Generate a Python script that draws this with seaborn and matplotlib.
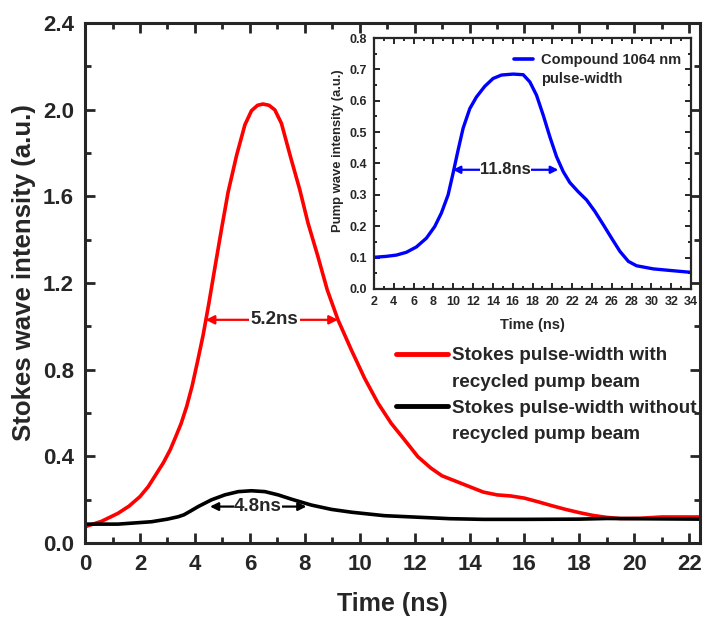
import numpy as np
import pandas as pd
import seaborn as sns
import matplotlib.pyplot as plt
from matplotlib.ticker import MultipleLocator
from matplotlib.lines import Line2D

# datos
t_red = [0, 0.6, 1.2, 1.6, 2.0, 2.3, 2.6, 2.85, 3.1, 3.3, 3.5, 3.7, 3.9, 4.1, 4.3, 4.5, 4.7, 4.97,
         5.21, 5.52, 5.82, 6.06, 6.28, 6.48, 6.7, 6.91, 7.15, 7.48, 7.82, 8.12, 8.48, 8.82, 9.21,
         9.7, 10.18, 10.67, 11.15, 11.64, 12.12, 12.6, 13.0, 13.5, 14.0, 14.5, 15.0, 15.5, 16.0,
         16.5, 17.0, 17.5, 18.0, 18.5, 19.0, 19.5, 20.2, 21.0, 22.4]
y_red = [0.075, 0.10, 0.137, 0.17, 0.214, 0.26, 0.32, 0.37, 0.43, 0.49, 0.552, 0.63, 0.725, 0.84,
         0.96, 1.10, 1.25, 1.45, 1.62, 1.79, 1.93, 1.995, 2.02, 2.026, 2.02, 1.999, 1.937, 1.783,
         1.63, 1.476, 1.322, 1.168, 1.03, 0.89, 0.76, 0.645, 0.552, 0.475, 0.398, 0.345, 0.31,
         0.285, 0.26, 0.235, 0.222, 0.217, 0.207, 0.19, 0.172, 0.155, 0.14, 0.127, 0.118, 0.113,
         0.114, 0.12, 0.12]

t_black = [0, 1.2, 2.42, 3.0, 3.39, 3.6, 3.85, 4.12, 4.6, 5.09, 5.58, 6.06, 6.55, 7.03, 7.52, 8.24,
           8.97, 9.7, 10.9, 12.1, 13.3, 14.5, 16, 18, 19, 20, 22.4]
y_black = [0.087, 0.087, 0.098, 0.11, 0.121, 0.13, 0.148, 0.168, 0.199, 0.222, 0.237, 0.241, 0.237,
           0.222, 0.202, 0.175, 0.155, 0.142, 0.126, 0.119, 0.112, 0.109, 0.109, 0.11, 0.113, 0.112,
           0.11]

t_blue = [2, 3.25, 4.26, 5.27, 6.28, 7.29, 8.13, 8.8, 9.48, 9.98, 10.49, 10.99, 11.67, 12.34, 13.18,
          14.02, 14.87, 16.05, 17.06, 17.73, 18.4, 19.08, 19.75, 20.42, 21.1, 21.77, 22.61, 23.45,
          24.3, 25.14, 25.98, 26.82, 27.67, 28.5, 30.2, 31.9, 34]
y_blue = [0.101, 0.104, 0.108, 0.117, 0.134, 0.162, 0.199, 0.242, 0.30, 0.369, 0.443, 0.512, 0.575,
          0.612, 0.646, 0.671, 0.682, 0.685, 0.683, 0.66, 0.618, 0.554, 0.485, 0.422, 0.374, 0.339,
          0.31, 0.284, 0.247, 0.205, 0.162, 0.12, 0.088, 0.074, 0.064, 0.059, 0.053]

lbl_red = ['Stokes pulse-width with', 'recycled pump beam']
lbl_black = ['Stokes pulse-width without', 'recycled pump beam']
lbl_blue = ['Compound 1064 nm', 'pulse-width']

sns.set_style('ticks')
plt.rcParams['font.family'] = ['Liberation Sans', 'DejaVu Sans']
plt.rcParams['font.weight'] = 'bold'

fig = plt.figure(figsize=(7.03, 6.18), dpi=100)
ax = fig.add_axes([0.121, 0.1214, 0.875, 0.8414])

sns.lineplot(x=t_red, y=y_red, ax=ax, color='#ff0000', lw=2.6)
sns.lineplot(x=t_black, y=y_black, ax=ax, color='black', lw=2.6)

ax.set_xlim(0, 22.4)
ax.set_ylim(0, 2.4)
ax.xaxis.set_major_locator(MultipleLocator(2))
ax.xaxis.set_minor_locator(MultipleLocator(1))
ax.yaxis.set_major_locator(MultipleLocator(0.4))
ax.yaxis.set_minor_locator(MultipleLocator(0.2))
ax.yaxis.set_major_formatter(plt.FuncFormatter(lambda v, p: f'{v:.1f}'))
ax.tick_params(which='both', direction='in', top=True, right=True, width=2)
ax.tick_params(which='major', length=7, labelsize=16, pad=8)
ax.tick_params(which='minor', length=4)
for s in ax.spines.values():
    s.set_linewidth(2.2)
ax.set_xlabel('Time (ns)', fontsize=18, fontweight='bold', labelpad=12)
ax.set_ylabel('Stokes wave intensity (a.u.)', fontsize=18.5, fontweight='bold')
ax.yaxis.set_label_coords(-0.08, 0.521)

# leyenda: la linea va con la primera fila del texto
vacio = Line2D([], [], color='none')
h = [Line2D([], [], color='#ff0000', lw=3.5), vacio, Line2D([], [], color='black', lw=3.5), vacio]
leg = ax.legend(h, lbl_red + lbl_black, loc='center left', bbox_to_anchor=(0.493, 0.284),
                frameon=False, fontsize=13.6, handlelength=2.75, handletextpad=0.2,
                labelspacing=0.48, borderaxespad=0)

# anotaciones de ancho de pulso
arr_r = dict(arrowstyle='<|-|>', color='#ff0000', lw=1.6, mutation_scale=13, shrinkA=0, shrinkB=0)
ax.annotate('', xy=(4.39, 1.03), xytext=(9.21, 1.03), arrowprops=arr_r)
ax.text(6.9, 1.03, '5.2ns', ha='center', va='center', fontsize=13.5, fontweight='bold',
        bbox=dict(facecolor='white', edgecolor='none', pad=1))
arr_k = dict(arrowstyle='<|-|>', color='black', lw=1.6, mutation_scale=12, shrinkA=0, shrinkB=0)
ax.annotate('', xy=(4.55, 0.168), xytext=(8.06, 0.168), arrowprops=arr_k)
ax.text(6.3, 0.168, '4.8ns', ha='center', va='center', fontsize=13.5, fontweight='bold',
        bbox=dict(facecolor='white', edgecolor='none', pad=0.3))

# recuadro
axi = fig.add_axes([0.532, 0.5324, 0.451, 0.4061])
sns.lineplot(x=t_blue, y=y_blue, ax=axi, color='#0000ff', lw=2.4)
axi.set_xlim(2, 34)
axi.set_ylim(0, 0.8)
axi.xaxis.set_major_locator(MultipleLocator(2))
axi.xaxis.set_minor_locator(MultipleLocator(1))
axi.yaxis.set_major_locator(MultipleLocator(0.1))
axi.yaxis.set_minor_locator(MultipleLocator(0.05))
axi.yaxis.set_major_formatter(plt.FuncFormatter(lambda v, p: f'{v:.1f}'))
axi.tick_params(which='both', direction='in', top=True, right=True, width=1.4)
axi.tick_params(which='major', length=4, labelsize=9, pad=5)
axi.tick_params(which='minor', length=2)
for s in axi.spines.values():
    s.set_linewidth(1.6)
axi.set_xlabel('Time (ns)', fontsize=10.5, fontweight='bold', labelpad=7)
axi.set_ylabel('Pump wave intensity (a.u.)', fontsize=9.4, fontweight='bold')
axi.yaxis.set_label_coords(-0.095, 0.55)
hi = [Line2D([], [], color='#0000ff', lw=2.6), vacio]
legi = axi.legend(hi, lbl_blue, loc='upper left', bbox_to_anchor=(0.422, 0.963), frameon=False,
                  fontsize=10.5, handlelength=1.35, handletextpad=0.5, labelspacing=0.3,
                  borderaxespad=0)
arr_b = dict(arrowstyle='<|-|>', color='#0000ff', lw=1.6, mutation_scale=11, shrinkA=0, shrinkB=0)
axi.annotate('', xy=(9.95, 0.38), xytext=(20.6, 0.38), arrowprops=arr_b)
axi.text(15.3, 0.38, '11.8ns', ha='center', va='center', fontsize=12, fontweight='bold',
         bbox=dict(facecolor='white', edgecolor='none', pad=0.3))

fig.savefig('out.png', dpi=100)
